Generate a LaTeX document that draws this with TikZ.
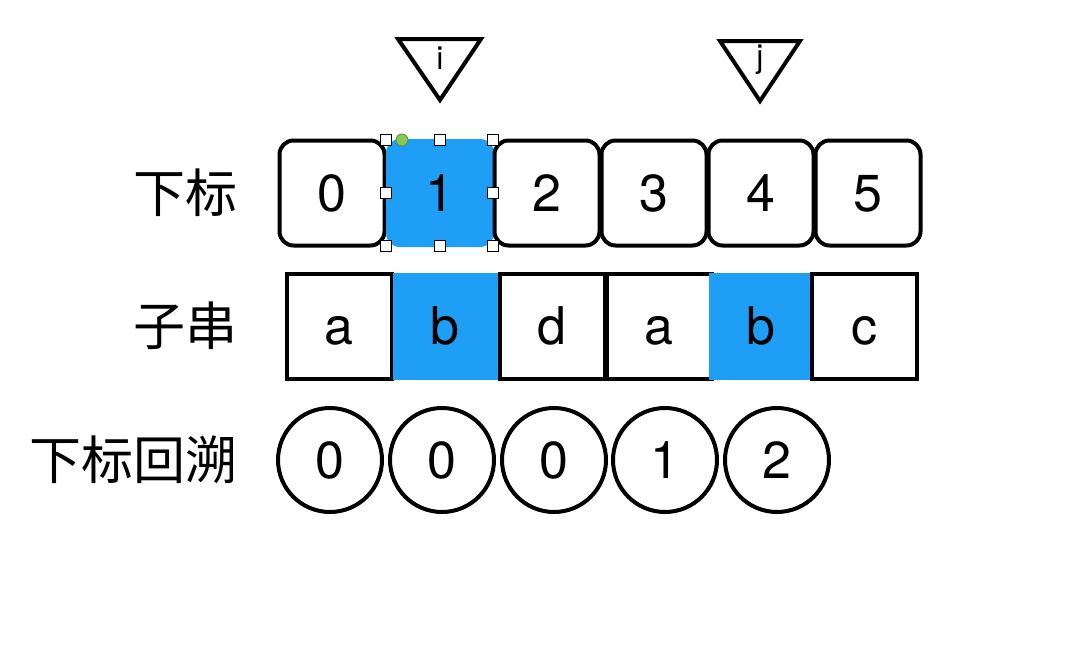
\documentclass[tikz,border=0pt]{standalone}
\usepackage{fontspec}
\setmainfont{TeX Gyre Heros}
\newfontfamily\cjk{Noto Sans CJK SC}
\usepackage{xcolor}
\usepackage{tikz}
\usetikzlibrary{positioning}
\definecolor{hlblue}{RGB}{30,159,245}
\definecolor{handlegreen}{RGB}{135,200,85}

\begin{document}
\begin{tikzpicture}[x=0.5pt,y=-0.5pt,
  cellfont/.style={font=\fontsize{26}{26}\selectfont,text height=18.7pt,text depth=0pt},
  idxbox/.style={draw,line width=2pt,rounded corners=7pt,minimum size=52.5pt,inner sep=0pt,cellfont},
  idxsel/.style={fill=hlblue,rounded corners=7pt,minimum size=54pt,inner sep=0pt,cellfont},
  chrbox/.style={draw,line width=2pt,minimum size=52.5pt,inner sep=0pt,cellfont},
  chrsel/.style={fill=hlblue,minimum height=53.5pt,minimum width=52.5pt,inner sep=0pt,cellfont},
  nxtcirc/.style={draw,circle,line width=2pt,minimum size=52pt,inner sep=0pt,cellfont},
  rowlabel/.style={anchor=east,font=\cjk\fontsize{26}{26}\selectfont},
  ptr/.style={line width=2pt,line join=miter},
  handle/.style={draw,fill=white,line width=0.5pt,minimum size=5.5pt,inner sep=0pt}]
  \useasboundingbox (0,0) rectangle (1084,648);
  % row labels
  \node[rowlabel] (lblidx) at (245,193) {下标};
  \node[rowlabel] (lblsub) at (245,326) {子串};
  \node[rowlabel] (lblnext) at (245,460) {下标回溯};
  % index row
  \foreach \x/\n/\s in {332/0/idxbox,440/1/idxsel,547/2/idxbox,654/3/idxbox,761/4/idxbox,868/5/idxbox}
    \node[\s] (idx\n) at (\x,193) {\n};
  % selection handles
  \foreach \hx/\hy in {386/140,440/140,493/140,386/193,493/193,386/246,440/246,493/246}
    \node[handle] at (\hx,\hy) {};
  \filldraw[fill=handlegreen,draw=handlegreen!70!black,line width=0.4pt] (402,140) circle (3pt);
  % substring row
  \foreach \x/\c/\s [count=\k from 0] in {339/a/chrbox,445/b/chrsel,552/d/chrbox,659/a/chrbox,761/b/chrsel,864/c/chrbox}
    \node[\s] (chr\k) at (\x,326) {\c};
  % backtrack row
  \foreach \x/\v [count=\k from 0] in {330/0,442/0,554/0,665/1,777/2}
    \node[nxtcirc] (nxt\k) at (\x,460) {\v};
  % pointers
  \draw[ptr] (398,39) -- (481,39) -- (440,100) -- cycle;
  \node[font=\fontsize{16}{16}\selectfont] (ptri) at (440,58) {i};
  \draw[ptr] (720,41) -- (800,41) -- (760,101) -- cycle;
  \node[font=\fontsize{16}{16}\selectfont] (ptrj) at (760,60) {j};
\end{tikzpicture}
\end{document}
